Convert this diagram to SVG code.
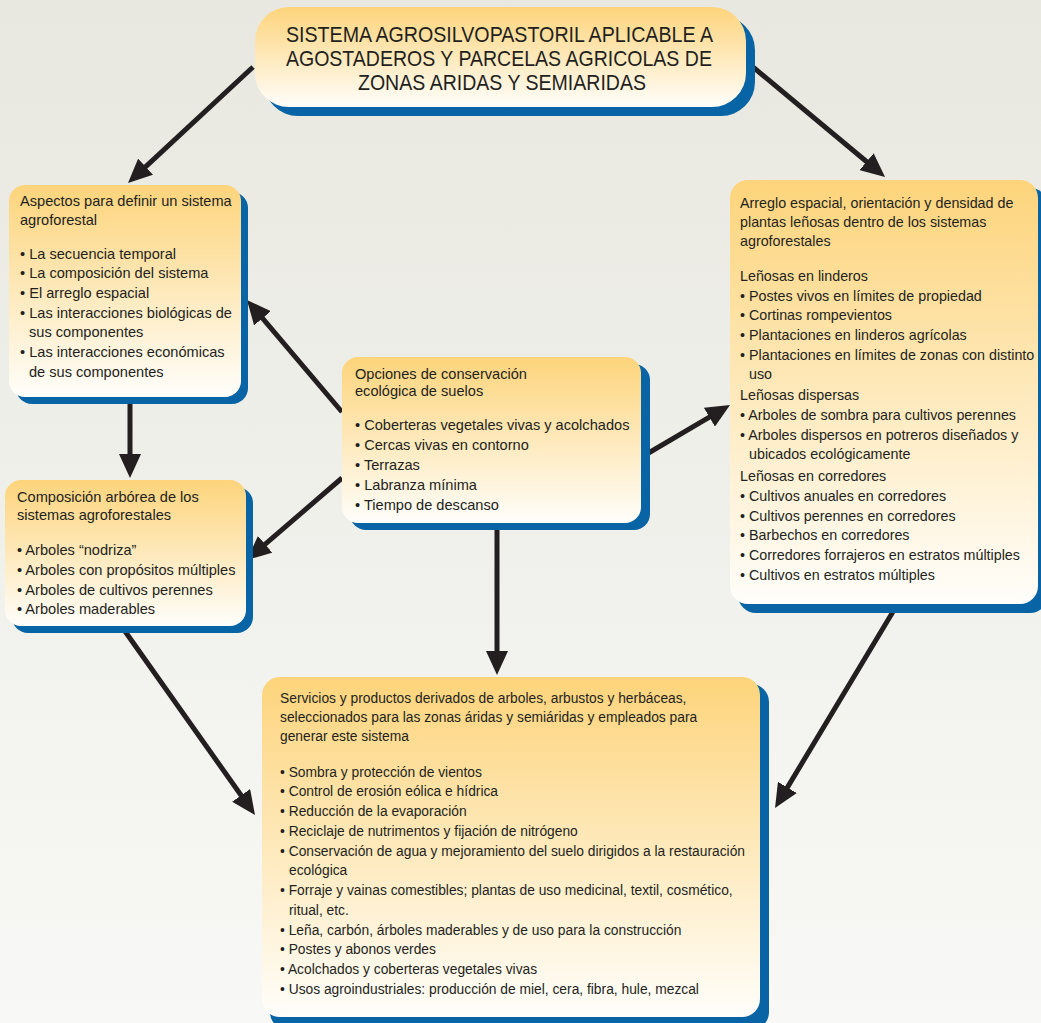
<svg xmlns="http://www.w3.org/2000/svg" width="1041" height="1023" viewBox="0 0 1041 1023">
<defs>
<linearGradient id="bg" x1="0" y1="0" x2="0" y2="1">
<stop offset="0" stop-color="#e8e8e0"/>
<stop offset="1" stop-color="#f8f8f6"/>
</linearGradient>
<linearGradient id="boxfill" x1="0" y1="0" x2="0" y2="1">
<stop offset="0" stop-color="#fdd47b"/>
<stop offset="1" stop-color="#fffefb"/>
</linearGradient>
<marker id="arrow" markerUnits="userSpaceOnUse" markerWidth="24" markerHeight="22" viewBox="0 0 24 22" refX="6" refY="11" orient="auto">
<path d="M0,0 L24,11 L0,22 Z" fill="#231f20"/>
</marker>
<style>
.shadow{fill:#0864a4}
.box{fill:url(#boxfill)}
.t{font-family:"Liberation Sans",Arial,sans-serif;font-size:14.6px;fill:#231f20}
.t2{font-family:"Liberation Sans",Arial,sans-serif;font-size:14.3px;fill:#231f20}
.t3{font-family:"Liberation Sans",Arial,sans-serif;font-size:13.8px;fill:#231f20}
.title{font-family:"Liberation Sans",Arial,sans-serif;font-size:22px;fill:#231f20}
.conn line{stroke:#231f20;stroke-width:5;marker-end:url(#arrow)}
</style>
</defs>
<rect x="0" y="0" width="1041" height="1023" fill="url(#bg)"/>

<g id="connectors" class="conn">
<line x1="253" y1="67" x2="141.2" y2="170.8"/>
<line x1="747" y1="62" x2="871.2" y2="165.5"/>
<line x1="342" y1="412" x2="258.6" y2="313.7"/>
<line x1="342" y1="478" x2="260.6" y2="548.2"/>
<line x1="130" y1="398" x2="130" y2="460"/>
<line x1="122" y1="627" x2="244.6" y2="800.3"/>
<line x1="497" y1="523" x2="497" y2="657"/>
<line x1="640" y1="458" x2="714.5" y2="414.1"/>
<line x1="897" y1="605" x2="784.3" y2="792.6"/>
</g>

<g id="title">
<rect class="shadow" x="264" y="16" width="491" height="100" rx="34"/>
<rect class="box" x="255" y="7" width="491" height="100" rx="34"/>
<text class="title" text-anchor="middle">
<tspan x="502" y="42" textLength="426" lengthAdjust="spacingAndGlyphs">SISTEMA AGROSILVOPASTORIL APLICABLE A</tspan>
<tspan x="502" y="66" textLength="426" lengthAdjust="spacingAndGlyphs">AGOSTADEROS Y PARCELAS AGRICOLAS DE</tspan>
<tspan x="502" y="90" textLength="288" lengthAdjust="spacingAndGlyphs">ZONAS ARIDAS Y SEMIARIDAS</tspan>
</text>
</g>

<g id="aspectos">
<rect class="shadow" x="16" y="192" width="232" height="212" rx="16"/>
<rect class="box" x="9" y="185" width="232" height="212" rx="16"/>
<text class="t">
<tspan x="20" y="206">Aspectos para definir un sistema</tspan>
<tspan x="20" y="225">agroforestal</tspan>
<tspan x="20" y="259">• La secuencia temporal</tspan>
<tspan x="20" y="278">• La composición del sistema</tspan>
<tspan x="20" y="298">• El arreglo espacial</tspan>
<tspan x="20" y="318">• Las interacciones biológicas de</tspan>
<tspan x="29" y="337">sus componentes</tspan>
<tspan x="20" y="357">• Las interacciones económicas</tspan>
<tspan x="29" y="377">de sus componentes</tspan>
</text>
</g>

<g id="composicion">
<rect class="shadow" x="12" y="487" width="241" height="146" rx="16"/>
<rect class="box" x="5" y="480" width="241" height="146" rx="16"/>
<text class="t">
<tspan x="17" y="502">Composición arbórea de los</tspan>
<tspan x="17" y="520">sistemas agroforestales</tspan>
<tspan x="17" y="555">• Arboles “nodriza”</tspan>
<tspan x="17" y="575">• Arboles con propósitos múltiples</tspan>
<tspan x="17" y="595">• Arboles de cultivos perennes</tspan>
<tspan x="17" y="614">• Arboles maderables</tspan>
</text>
</g>

<g id="opciones">
<rect class="shadow" x="350" y="364" width="300" height="166" rx="16"/>
<rect class="box" x="342" y="357" width="299" height="166" rx="16"/>
<text class="t">
<tspan x="355" y="379">Opciones de conservación</tspan>
<tspan x="355" y="396">ecológica de suelos</tspan>
<tspan x="355" y="430">• Coberteras vegetales vivas y acolchados</tspan>
<tspan x="355" y="450">• Cercas vivas en contorno</tspan>
<tspan x="355" y="470">• Terrazas</tspan>
<tspan x="355" y="490">• Labranza mínima</tspan>
<tspan x="355" y="510">• Tiempo de descanso</tspan>
</text>
</g>

<g id="arreglo">
<rect class="shadow" x="738" y="188" width="310" height="425" rx="18"/>
<rect class="box" x="730" y="180" width="308" height="424" rx="18"/>
<text class="t2">
<tspan x="740" y="208">Arreglo espacial, orientación y densidad de</tspan>
<tspan x="740" y="227">plantas leñosas dentro de los sistemas</tspan>
<tspan x="740" y="246">agroforestales</tspan>
<tspan x="740" y="281">Leñosas en linderos</tspan>
<tspan x="740" y="301">• Postes vivos en límites de propiedad</tspan>
<tspan x="740" y="320">• Cortinas rompevientos</tspan>
<tspan x="740" y="340">• Plantaciones en linderos agrícolas</tspan>
<tspan x="740" y="360">• Plantaciones en límites de zonas con distinto</tspan>
<tspan x="749" y="379">uso</tspan>
<tspan x="740" y="400">Leñosas dispersas</tspan>
<tspan x="740" y="420">• Arboles de sombra para cultivos perennes</tspan>
<tspan x="740" y="440">• Arboles dispersos en potreros diseñados y</tspan>
<tspan x="749" y="459">ubicados ecológicamente</tspan>
<tspan x="740" y="481">Leñosas en corredores</tspan>
<tspan x="740" y="501">• Cultivos anuales en corredores</tspan>
<tspan x="740" y="521">• Cultivos perennes en corredores</tspan>
<tspan x="740" y="540">• Barbechos en corredores</tspan>
<tspan x="740" y="560">• Corredores forrajeros en estratos múltiples</tspan>
<tspan x="740" y="580">• Cultivos en estratos múltiples</tspan>
</text>
</g>

<g id="servicios">
<rect class="shadow" x="270" y="684" width="499" height="346" rx="18"/>
<rect class="box" x="262" y="677" width="498" height="340" rx="18"/>
<text class="t3">
<tspan x="280" y="703">Servicios y productos derivados de arboles, arbustos y herbáceas,</tspan>
<tspan x="280" y="722">seleccionados para las zonas áridas y semiáridas y empleados para</tspan>
<tspan x="280" y="741">generar este sistema</tspan>
<tspan x="280" y="777">• Sombra y protección de vientos</tspan>
<tspan x="280" y="796">• Control de erosión eólica e hídrica</tspan>
<tspan x="280" y="816">• Reducción de la evaporación</tspan>
<tspan x="280" y="836">• Reciclaje de nutrimentos y fijación de nitrógeno</tspan>
<tspan x="280" y="856">• Conservación de agua y mejoramiento del suelo dirigidos a la restauración</tspan>
<tspan x="289" y="875">ecológica</tspan>
<tspan x="280" y="895">• Forraje y vainas comestibles; plantas de uso medicinal, textil, cosmético,</tspan>
<tspan x="289" y="915">ritual, etc.</tspan>
<tspan x="280" y="935">• Leña, carbón, árboles maderables y de uso para la construcción</tspan>
<tspan x="280" y="954">• Postes y abonos verdes</tspan>
<tspan x="280" y="974">• Acolchados y coberteras vegetales vivas</tspan>
<tspan x="280" y="994">• Usos agroindustriales: producción de miel, cera, fibra, hule, mezcal</tspan>
</text>
</g>
</svg>
